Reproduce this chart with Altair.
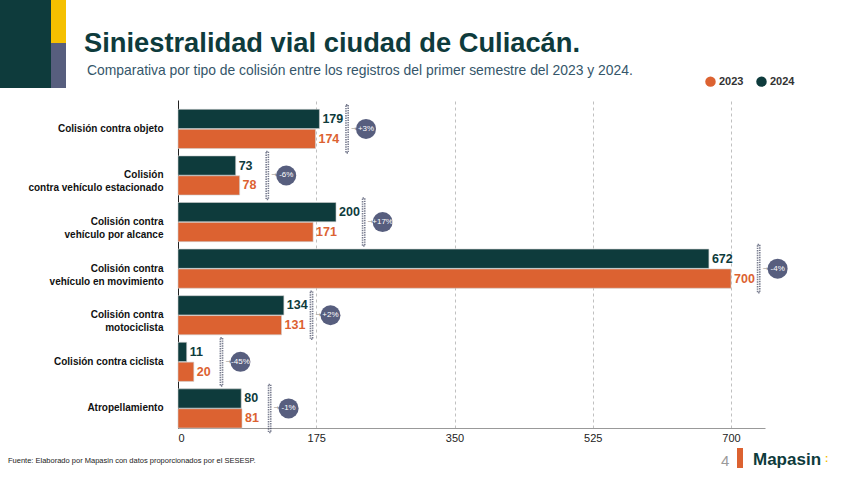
import altair as alt
import pandas as pd

# ---------------- data ----------------
categories = [
    "Colisión contra objeto",
    "Colisión|contra vehículo estacionado",
    "Colisión contra|vehículo por alcance",
    "Colisión contra|vehículo en movimiento",
    "Colisión contra|motociclista",
    "Colisión contra ciclista",
    "Atropellamiento",
]
values_2023 = [174, 78, 171, 700, 131, 20, 81]
values_2024 = [179, 73, 200, 672, 134, 11, 80]
change_labels = ["+3%", "-6%", "+17%", "-4%", "+2%", "-45%", "-1%"]
years = ["2023", "2024"]
x_ticks = [0, 175, 350, 525, 700]

DARK = "#0e3b3c"
ORANGE = "#dc6231"
SLATE = "#575e7e"
YELLOW = "#f5c000"
FONT = "Liberation Sans"

long_df = pd.DataFrame(
    {
        "cat": categories * 2,
        "year": ["2023"] * len(categories) + ["2024"] * len(categories),
        "value": values_2023 + values_2024,
    }
)
wide_df = pd.DataFrame(
    {"cat": categories, "v2023": values_2023, "v2024": values_2024, "label": change_labels}
)

W, H = 587, 328
PL, PT = 178, 100

x_scale = alt.Scale(domain=[0, 743], nice=False, zero=True)
x_axis = alt.Axis(
    values=x_ticks, title=None, ticks=False, labelPadding=4, labelFontSize=11,
    labelColor="#222", labelFont=FONT, domainColor="#999", domainWidth=1,
    grid=True, gridDash=[3, 3], gridColor="#b0b0b0", gridWidth=0.8,
)
y_axis = alt.Axis(
    title=None, ticks=False, labelPadding=15, labelFontSize=10, labelFontWeight="bold",
    labelColor="#111", labelFont=FONT, labelLineHeight=13, domainColor="#222",
    domainWidth=1, labelExpr="split(datum.label, '|')", grid=False,
)
y_enc = alt.Y("cat:N", sort=categories,
              scale=alt.Scale(domain=categories, paddingInner=0.16, paddingOuter=0.1, align=1),
              axis=y_axis)
yoff = alt.YOffset("year:N", sort=["2024", "2023"],
                   scale=alt.Scale(domain=["2024", "2023"], paddingInner=0.03))
color_enc = alt.Color(
    "year:N",
    scale=alt.Scale(domain=years, range=[ORANGE, DARK]),
    legend=alt.Legend(
        orient="none", legendX=527, legendY=-24, direction="horizontal", title=None,
        symbolType="circle", symbolSize=110, symbolStrokeWidth=0, labelFontSize=11,
        labelFontWeight="bold", labelFont=FONT, labelColor="#333", columnPadding=12,
        labelOffset=3,
    ),
)

base = alt.Chart(long_df)

bars = base.mark_bar(stroke="#cfcfcf", strokeWidth=0.6).encode(
    x=alt.X("value:Q", scale=x_scale, axis=x_axis),
    y=y_enc, yOffset=yoff, color=color_enc,
)

value_labels = base.mark_text(
    align="left", baseline="middle", dx=3, fontSize=12.5, fontWeight="bold", font=FONT
).encode(
    x=alt.X("value:Q", scale=x_scale, axis=x_axis),
    y=y_enc, yOffset=yoff, color=color_enc, text="value:Q",
)

ann = alt.Chart(wide_df).transform_calculate(
    mx="max(datum.v2023, datum.v2024)"
).transform_calculate(
    bx="datum.mx + 35", ax="datum.mx + 40", cx="datum.mx + 59"
)

brackets = ann.mark_tick(
    orient="vertical", size=48, thickness=2.2, filled=False, color="#3e4560",
    strokeWidth=1.6, strokeDash=[1.4, 1],
).encode(x=alt.X("bx:Q", scale=x_scale, axis=x_axis), y=y_enc)

arrows = ann.mark_text(text="→", fontSize=7, color="#8a8a8a", align="left",
                       baseline="middle", font="DejaVu Sans").encode(
    x=alt.X("ax:Q", scale=x_scale, axis=x_axis), y=y_enc)

circles = ann.mark_circle(size=400, color=SLATE, opacity=1).encode(
    x=alt.X("cx:Q", scale=x_scale, axis=x_axis), y=y_enc)

circle_text = ann.mark_text(fontSize=8, color="white", align="center",
                            baseline="middle", font=FONT).encode(
    x=alt.X("cx:Q", scale=x_scale, axis=x_axis), y=y_enc, text="label:N")

one = alt.Data(values=[{}])


def rect(x0, x1, y0, y1, color):
    return alt.Chart(one).mark_rect(color=color).encode(
        x=alt.value(x0 - PL), x2=alt.value(x1 - PL),
        y=alt.value(y0 - PT), y2=alt.value(y1 - PT),
    )


def label(txt, x, y, **kw):
    return alt.Chart(one).mark_text(text=txt, align="left", baseline="alphabetic", **kw).encode(
        x=alt.value(x - PL), y=alt.value(y - PT)
    )


deco = [
    rect(0, 51, 0, 88, DARK),
    rect(51, 66, 0, 43, YELLOW),
    rect(51, 66, 43, 88, SLATE),
    label("Siniestralidad vial ciudad de Culiacán.", 84, 52, fontSize=27.3,
          fontWeight="bold", font=FONT, color=DARK),
    label("Comparativa por tipo de colisión entre los registros del primer semestre del 2023 y 2024.",
          87, 75, fontSize=13.9, font=FONT, color="#35566a"),
    label("Fuente: Elaborado por Mapasin con datos proporcionados por el SESESP.", 8, 463,
          fontSize=7.5, font="Liberation Sans Narrow, Liberation Sans", color="#222"),
    label("4", 721, 466, fontSize=15, font=FONT, color="#9a9a9a"),
    rect(737, 743, 448, 468, ORANGE),
    label("Mapasin", 753, 465, fontSize=17, fontWeight="bold", font=FONT, color=DARK),
    label(":", 825, 462, fontSize=10, fontWeight="bold", font=FONT, color=YELLOW),
]

chart = alt.layer(
    bars, value_labels, brackets, arrows, circles, circle_text, *deco
).properties(
    width=W, height=H,
    padding={"left": PL, "top": PT, "right": 855 - PL - W, "bottom": 480 - PT - H},
    autosize=alt.AutoSizeParams(type="none"),
    background="white",
).configure_view(stroke=None)

chart.save("out.html", embed_options={"renderer": "svg", "actions": False})
